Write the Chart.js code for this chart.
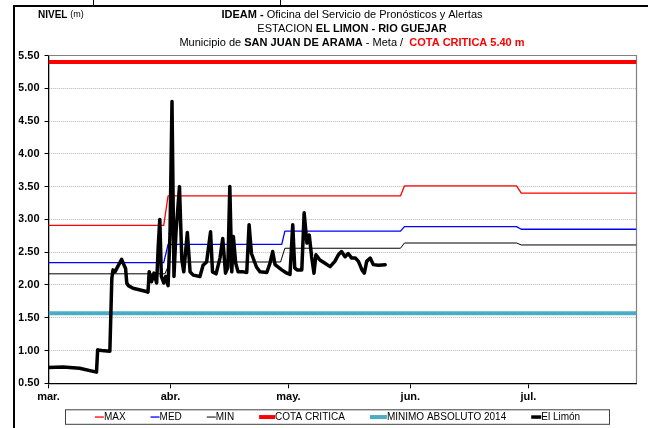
<!DOCTYPE html>
<html>
<head>
<meta charset="utf-8">
<script src="https://cdn.jsdelivr.net/npm/chart.js@4.4.0/dist/chart.umd.min.js"></script>
<style>
  html, body { margin: 0; padding: 0; background: #fff; }
  #wrap { width: 648px; height: 428px; }
</style>
</head>
<body>
<div id="wrap"><canvas id="nivelChart" width="648" height="428"></canvas></div>
<script>
// Days counted from 1 March
const monthDays = [0, 31, 61, 92, 122];
const monthLabels = ['mar.', 'abr.', 'may.', 'jun.', 'jul.'];
const axisEndDay = 149.5;

// Historic reference levels (m)
const maxDays = [0, 29.3, 30.4, 89.5, 90.5, 119, 120.2, axisEndDay];
const maxValues = [2.91, 2.91, 3.36, 3.36, 3.51, 3.51, 3.40, 3.40];
const medDays = [0, 29.3, 30.4, 59.3, 60.1, 89.5, 90.5, 119, 120.2, axisEndDay];
const medValues = [2.34, 2.34, 2.62, 2.62, 2.82, 2.82, 2.89, 2.89, 2.85, 2.85];
const minDays = [0, 29.6, 30.9, 59.0, 60.1, 89.5, 90.5, 119, 120.2, axisEndDay];
const minValues = [2.17, 2.17, 2.35, 2.35, 2.56, 2.56, 2.64, 2.64, 2.61, 2.61];
const cotaCritica = 5.40;
const minimoAbsoluto2014 = 1.57;

// Observed level at El Limón
const limonDays = [
  0, 3.7, 7.9, 12.2, 12.5, 13.5, 15.6, 16.1, 16.4, 16.9, 17.7, 18.6, 19.0, 19.6, 19.9,
  20.3, 21.5, 24.9, 25.3, 25.6, 26.2, 26.8, 27.5, 27.9, 28.3, 28.7, 29.3, 29.8, 30.4,
  30.9, 31.4, 31.9, 32.4, 33.3, 33.9, 34.4, 35.3, 36.0, 36.8, 38.5, 39.3, 40.2, 41.2,
  41.7, 42.6, 43.6, 44.3, 45.0, 45.6, 46.1, 46.6, 47.0, 47.6, 48.2, 49.5, 50.4, 51.0,
  51.6, 52.9, 53.8, 55.5, 56.3, 57.0, 57.6, 59.3, 60.6, 61.4, 62.1, 62.6, 63.2, 64.4,
  65.0, 65.7, 66.3, 66.9, 67.5, 68.0, 69.0, 70.3, 71.6, 72.8, 73.7, 74.5, 75.4, 76.2,
  77.1, 78.0, 78.8, 79.7, 80.3, 80.9, 81.8, 82.6, 83.9, 85.6
];
const limonValues = [
  0.74, 0.75, 0.73, 0.67, 1.01, 1.00, 0.99, 2.10, 2.23, 2.20, 2.29, 2.39, 2.33, 2.25, 2.03,
  1.99, 1.95, 1.90, 1.89, 2.20, 2.05, 2.18, 2.03, 2.59, 3.00, 2.13, 2.03, 2.13, 1.99,
  2.79, 4.80, 2.13, 2.79, 3.50, 2.38, 2.20, 2.80, 2.20, 2.15, 2.13, 2.30, 2.35, 2.81,
  2.20, 2.17, 2.41, 2.71, 2.18, 2.27, 3.50, 2.20, 2.74, 2.33, 2.20, 2.20, 2.19, 2.92,
  2.48, 2.27, 2.20, 2.19, 2.33, 2.51, 2.31, 2.23, 2.18, 2.16, 2.92, 2.26, 2.23, 2.23,
  3.10, 2.64, 2.76, 2.43, 2.18, 2.46, 2.38, 2.33, 2.28, 2.36, 2.46, 2.51, 2.43, 2.48,
  2.41, 2.41, 2.36, 2.23, 2.18, 2.36, 2.41, 2.31, 2.30, 2.31
];

const FAMILY = "'Liberation Sans Narrow', 'Arial Narrow', 'Liberation Sans', Arial, sans-serif";

function pairUp(xs, ys) {
    return xs.map((x, i) => ({ x: x, y: ys[i] }));
}

function flatLine(value) {
    return [{ x: 0, y: value }, { x: axisEndDay, y: value }];
}

// Draw a line of text made of several styled pieces, centred on cx
function drawRuns(ctx, runs, cx, y) {
    let total = 0;
    runs.forEach(r => {
        ctx.font = r.font;
        r.w = ctx.measureText(r.text).width;
        total += r.w;
    });
    let x = cx - total / 2;
    runs.forEach(r => {
        ctx.font = r.font;
        ctx.fillStyle = r.color || '#000';
        ctx.fillText(r.text, x, y);
        x += r.w;
    });
}

// Page frame, station header and the "NIVEL (m)" caption
const headerPlugin = {
    id: 'header',
    beforeDraw(chart) {
        const ctx = chart.ctx;
        ctx.save();
        ctx.fillStyle = '#fff';
        ctx.fillRect(0, 0, chart.width, chart.height);

        ctx.strokeStyle = '#000';
        ctx.lineWidth = 2;
        ctx.beginPath();
        ctx.moveTo(14, 6);
        ctx.lineTo(14, chart.height);
        ctx.moveTo(13, 6);
        ctx.lineTo(chart.width, 6);
        ctx.stroke();
        ctx.lineWidth = 1;
        ctx.beginPath();
        ctx.moveTo(93.5, 0);
        ctx.lineTo(93.5, 6);
        ctx.moveTo(280.5, 0);
        ctx.lineTo(280.5, 6);
        ctx.stroke();

        const b = 'bold 11px ' + FAMILY;
        const n = '11px ' + FAMILY;
        ctx.textBaseline = 'middle';
        ctx.textAlign = 'left';
        const cx = 352;
        drawRuns(ctx, [
            { text: 'IDEAM - ', font: b },
            { text: 'Oficina del Servicio de Pronósticos y Alertas', font: n }
        ], cx, 15);
        drawRuns(ctx, [
            { text: 'ESTACION ', font: n },
            { text: 'EL LIMON - RIO GUEJAR', font: b }
        ], cx, 29);
        drawRuns(ctx, [
            { text: 'Municipio de ', font: n },
            { text: 'SAN JUAN DE ARAMA', font: b },
            { text: ' - Meta /  ', font: n },
            { text: 'COTA CRITICA 5.40 m', font: b, color: '#ff0000' }
        ], cx, 42.5);

        ctx.font = 'bold 10px ' + FAMILY;
        ctx.fillStyle = '#000';
        ctx.fillText('NIVEL', 38, 15);
        const w = ctx.measureText('NIVEL ').width;
        ctx.font = '9px ' + FAMILY;
        ctx.fillText('(m)', 38 + w, 15);
        ctx.restore();
    }
};

// Solid grey border on the top and right of the plot area
const plotFramePlugin = {
    id: 'plotFrame',
    beforeDatasetsDraw(chart) {
        const { ctx, chartArea: a } = chart;
        ctx.save();
        ctx.strokeStyle = '#808080';
        ctx.lineWidth = 1.2;
        ctx.beginPath();
        ctx.moveTo(a.left, a.top);
        ctx.lineTo(a.right, a.top);
        ctx.lineTo(a.right, a.bottom);
        ctx.stroke();
        ctx.restore();
    }
};

// Boxed legend under the axis, built from the dataset styles
const boxLegendPlugin = {
    id: 'boxLegend',
    afterDraw(chart) {
        const { ctx, chartArea: a } = chart;
        const sampleWidths = [9, 9, 9, 16, 17, 10];
        const gap = 25;
        const font = '10px ' + FAMILY;
        ctx.save();
        ctx.font = font;
        const items = chart.data.datasets.map((ds, i) => ({
            label: ds.label,
            color: ds.borderColor,
            lineWidth: ds.borderWidth,
            sample: sampleWidths[i],
            textW: ctx.measureText(ds.label).width
        }));
        const total = items.reduce((s, it) => s + it.sample + it.textW, 0) + gap * (items.length - 1);

        const boxLeft = a.left + 17;
        const boxRight = a.right - 27;
        const boxTop = a.bottom + 26.5;
        const boxBottom = boxTop + 14.5;
        ctx.strokeStyle = '#404040';
        ctx.lineWidth = 1;
        ctx.strokeRect(boxLeft, boxTop, boxRight - boxLeft, boxBottom - boxTop);

        const cy = (boxTop + boxBottom) / 2;
        let x = (boxLeft + boxRight) / 2 - total / 2;
        ctx.textBaseline = 'middle';
        ctx.textAlign = 'left';
        items.forEach(it => {
            ctx.strokeStyle = it.color;
            ctx.lineWidth = it.lineWidth;
            ctx.beginPath();
            ctx.moveTo(x, cy);
            ctx.lineTo(x + it.sample, cy);
            ctx.stroke();
            x += it.sample;
            ctx.fillStyle = '#000';
            ctx.fillText(it.label, x, cy);
            x += it.textW + gap;
        });
        ctx.restore();
    }
};

const lineDefaults = {
    pointRadius: 0,
    pointHoverRadius: 0,
    tension: 0,
    fill: false,
    borderJoinStyle: 'round'
};

new Chart(document.getElementById('nivelChart'), {
    type: 'line',
    data: {
        datasets: [
            Object.assign({ label: 'MAX', data: pairUp(maxDays, maxValues), borderColor: '#ff0000', borderWidth: 1.3, order: 1 }, lineDefaults),
            Object.assign({ label: 'MED', data: pairUp(medDays, medValues), borderColor: '#0000ff', borderWidth: 1.3, order: 1 }, lineDefaults),
            Object.assign({ label: 'MIN', data: pairUp(minDays, minValues), borderColor: '#000000', borderWidth: 1, order: 1 }, lineDefaults),
            Object.assign({ label: 'COTA CRITICA', data: flatLine(cotaCritica), borderColor: '#ff0000', borderWidth: 4, order: 1 }, lineDefaults),
            Object.assign({ label: 'MINIMO ABSOLUTO 2014', data: flatLine(minimoAbsoluto2014), borderColor: '#4bacc6', borderWidth: 4, order: 1 }, lineDefaults),
            Object.assign({ label: 'El Limón', data: pairUp(limonDays, limonValues), borderColor: '#000000', borderWidth: 3.5, order: 0, borderCapStyle: 'round' }, lineDefaults)
        ]
    },
    options: {
        responsive: false,
        animation: false,
        events: [],
        layout: {
            padding: { left: 18.5, right: 11.5, top: 55.5, bottom: 24.7 }
        },
        plugins: {
            legend: { display: false },
            title: { display: false },
            tooltip: { enabled: false }
        },
        scales: {
            x: {
                type: 'linear',
                min: 0,
                max: axisEndDay,
                afterBuildTicks: scale => {
                    scale.ticks = monthDays.map(v => ({ value: v }));
                },
                afterFit: scale => {
                    scale.height = 20;
                },
                grid: {
                    drawOnChartArea: false,
                    tickLength: 5,
                    tickColor: '#000',
                    tickWidth: 1
                },
                border: { color: '#000', width: 1.3 },
                ticks: {
                    autoSkip: false,
                    maxRotation: 0,
                    padding: 2,
                    color: '#000',
                    font: { family: FAMILY, size: 11, weight: 'bold' },
                    callback: (value, index) => monthLabels[index]
                }
            },
            y: {
                min: 0.5,
                max: 5.5,
                afterFit: scale => {
                    scale.width = 30;
                },
                grid: {
                    color: '#b4b4b4',
                    lineWidth: 1,
                    tickColor: '#000',
                    tickLength: 4
                },
                border: { color: '#000', width: 1.3, dash: [1, 1] },
                ticks: {
                    stepSize: 0.5,
                    padding: 5,
                    color: '#000',
                    font: { family: FAMILY, size: 11, weight: 'bold' },
                    callback: value => value.toFixed(2)
                }
            }
        }
    },
    plugins: [headerPlugin, plotFramePlugin, boxLegendPlugin]
});
</script>
</body>
</html>
